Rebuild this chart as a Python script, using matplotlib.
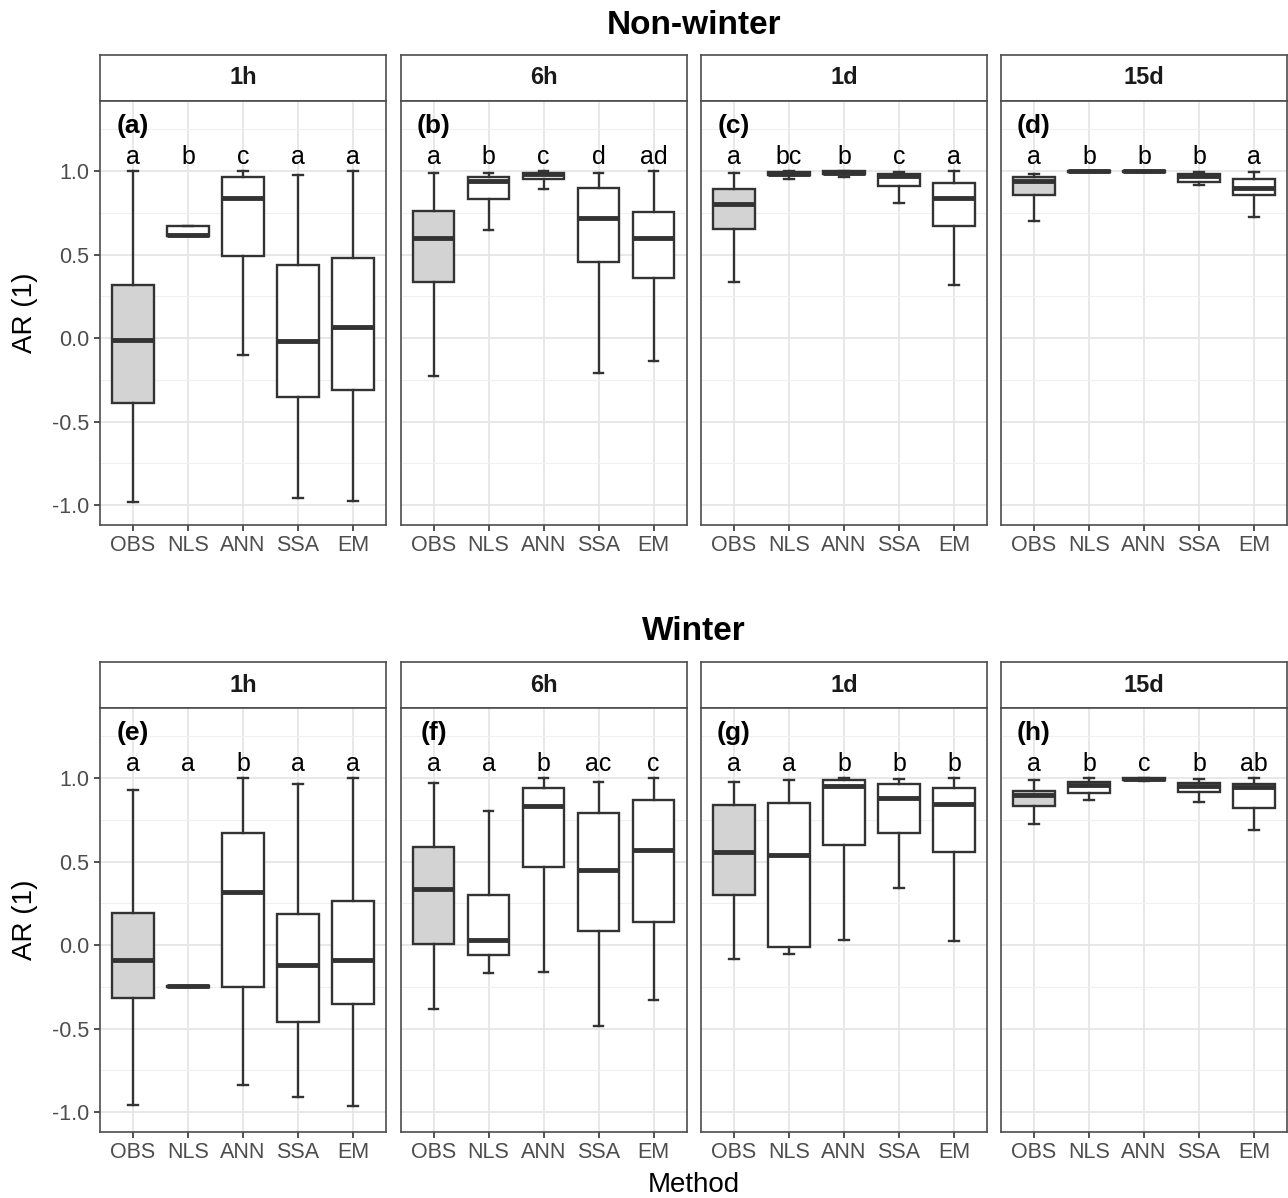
import numpy as np
import matplotlib.pyplot as plt
from matplotlib.ticker import MultipleLocator

plt.rcParams['font.family'] = ['Liberation Sans', 'DejaVu Sans']

methods = ['OBS', 'NLS', 'ANN', 'SSA', 'EM']
scales = ['1h', '6h', '1d', '15d']
seasons = ['Non-winter', 'Winter']

# box statistics per method: whisker low, Q1, median, Q3, whisker high
nw_1h = [[-0.98, -0.39, -0.01, 0.32, 1.00],
         [0.61, 0.61, 0.62, 0.67, 0.67],
         [-0.10, 0.49, 0.84, 0.966, 1.00],
         [-0.96, -0.355, -0.015, 0.436, 0.974],
         [-0.977, -0.31, 0.066, 0.48, 1.00]]
nw_6h = [[-0.23, 0.334, 0.60, 0.76, 0.99],
         [0.65, 0.83, 0.94, 0.966, 0.99],
         [0.89, 0.95, 0.98, 0.99, 1.00],
         [-0.21, 0.457, 0.72, 0.90, 0.99],
         [-0.136, 0.357, 0.60, 0.753, 1.00]]
nw_1d = [[0.338, 0.655, 0.80, 0.89, 0.99],
         [0.953, 0.974, 0.985, 0.996, 1.00],
         [0.966, 0.98, 0.99, 1.00, 1.00],
         [0.81, 0.91, 0.97, 0.98, 0.994],
         [0.32, 0.672, 0.836, 0.928, 1.00]]
nw_15d = [[0.704, 0.857, 0.938, 0.964, 0.983],
          [0.995, 0.995, 0.998, 1.00, 1.00],
          [0.995, 0.995, 0.998, 1.00, 1.00],
          [0.917, 0.934, 0.972, 0.985, 0.994],
          [0.726, 0.857, 0.90, 0.953, 0.996]]

w_1h = [[-0.957, -0.317, -0.088, 0.193, 0.927],
        [-0.25, -0.25, -0.247, -0.245, -0.245],
        [-0.837, -0.249, 0.32, 0.669, 1.00],
        [-0.912, -0.463, -0.118, 0.188, 0.964],
        [-0.964, -0.356, -0.088, 0.265, 1.00]]
w_6h = [[-0.381, 0.009, 0.336, 0.585, 0.968],
        [-0.166, -0.061, 0.032, 0.297, 0.805],
        [-0.163, 0.465, 0.832, 0.939, 1.00],
        [-0.483, 0.086, 0.451, 0.791, 0.975],
        [-0.327, 0.136, 0.569, 0.871, 1.00]]
w_1d = [[-0.084, 0.297, 0.556, 0.839, 0.975],
        [-0.054, -0.009, 0.54, 0.85, 0.991],
        [0.032, 0.60, 0.952, 0.986, 0.998],
        [0.34, 0.671, 0.878, 0.964, 0.993],
        [0.023, 0.558, 0.846, 0.941, 1.00]]
w_15d = [[0.726, 0.834, 0.896, 0.925, 0.989],
         [0.866, 0.909, 0.959, 0.977, 1.00],
         [0.982, 0.986, 0.995, 0.998, 1.00],
         [0.857, 0.914, 0.952, 0.973, 0.993],
         [0.689, 0.823, 0.948, 0.964, 1.00]]

nw_letters = [['a', 'b', 'c', 'a', 'a'],
              ['a', 'b', 'c', 'd', 'ad'],
              ['a', 'bc', 'b', 'c', 'a'],
              ['a', 'b', 'b', 'b', 'a']]
w_letters = [['a', 'a', 'b', 'a', 'a'],
             ['a', 'a', 'b', 'ac', 'c'],
             ['a', 'a', 'b', 'b', 'b'],
             ['a', 'b', 'c', 'b', 'ab']]
tags = [['(a)', '(b)', '(c)', '(d)'], ['(e)', '(f)', '(g)', '(h)']]

panel_stats = [[nw_1h, nw_6h, nw_1d, nw_15d], [w_1h, w_6h, w_1d, w_15d]]
panel_letters = [nw_letters, w_letters]

W, H = 1288, 1198
fig = plt.figure(figsize=(W / 100, H / 100), dpi=100)

col_x = [100, 400.5, 701, 1001]
panel_w = 286
strip_h = 46
row_top = [55, 662]      # top of strip
panel_h = 424

line_col = '#333333'
border_col = '#4d4d4d'


def rect(x, top, w, h):
    return [x / W, 1 - (top + h) / H, w / W, h / H]


for r in range(2):
    for c in range(4):
        # facet strip
        sax = fig.add_axes(rect(col_x[c], row_top[r], panel_w, strip_h))
        sax.set_xticks([])
        sax.set_yticks([])
        sax.set_facecolor('white')
        for sp in sax.spines.values():
            sp.set_color(border_col)
            sp.set_linewidth(1.2)
        sax.text(0.5, 0.5, scales[c], transform=sax.transAxes, ha='center',
                 va='center', fontsize=17, fontweight='bold', color='#1a1a1a')

        ax = fig.add_axes(rect(col_x[c], row_top[r] + strip_h, panel_w, panel_h))
        stats = [dict(whislo=s[0], q1=s[1], med=s[2], q3=s[3], whishi=s[4], label=m)
                 for s, m in zip(panel_stats[r][c], methods)]
        bp = ax.bxp(stats, positions=range(1, 6), widths=0.75, showfliers=False,
                    patch_artist=True, capwidths=0.18,
                    boxprops=dict(facecolor='white', edgecolor=line_col, linewidth=1.7),
                    medianprops=dict(color=line_col, linewidth=3.5, solid_capstyle='butt'),
                    whiskerprops=dict(color=line_col, linewidth=1.7),
                    capprops=dict(color=line_col, linewidth=1.7))
        bp['boxes'][0].set_facecolor('#D3D3D3')

        for i, lab in enumerate(panel_letters[r][c]):
            ax.text(i + 1, 1.045, lab, ha='center', va='baseline', fontsize=18, color='black')
        ax.text(1, 1.23, tags[r][c], ha='center', va='baseline', fontsize=19,
                fontweight='bold', color='black')

        ax.set_xlim(0.4, 5.6)
        ax.set_ylim(-1.12, 1.42)
        ax.set_xticks(range(1, 6))
        ax.set_xticklabels(methods)
        ax.set_yticks([-1.0, -0.5, 0.0, 0.5, 1.0])
        ax.set_yticklabels(['-1.0', '-0.5', '0.0', '0.5', '1.0'])
        ax.yaxis.set_minor_locator(MultipleLocator(0.25))
        ax.set_axisbelow(True)
        ax.grid(which='major', color='#E6E6E6', linewidth=1.3)
        ax.grid(which='minor', axis='y', color='#F0F0F0', linewidth=0.8)
        ax.tick_params(which='major', length=4.5, width=1.2, color=line_col,
                       labelsize=15.5, labelcolor='#4d4d4d', pad=3)
        ax.tick_params(which='minor', length=0)
        for sp in ax.spines.values():
            sp.set_color(border_col)
            sp.set_linewidth(1.2)
        if c > 0:
            ax.tick_params(axis='y', left=False, labelleft=False)
        else:
            top = row_top[r] + strip_h
            fig.text(25 / W, 1 - (top + panel_h / 2) / H, 'AR (1)', rotation=90,
                     ha='center', va='center', fontsize=20, color='black')

fig.text(694 / W, 1 - 26 / H, seasons[0], ha='center', va='center',
         fontsize=24, fontweight='bold')
fig.text(694 / W, 1 - 632 / H, seasons[1], ha='center', va='center',
         fontsize=24, fontweight='bold')
fig.text(694 / W, 1 - 1185 / H, 'Method', ha='center', va='center', fontsize=20)

fig.savefig('out.png', dpi=100, facecolor='white')
